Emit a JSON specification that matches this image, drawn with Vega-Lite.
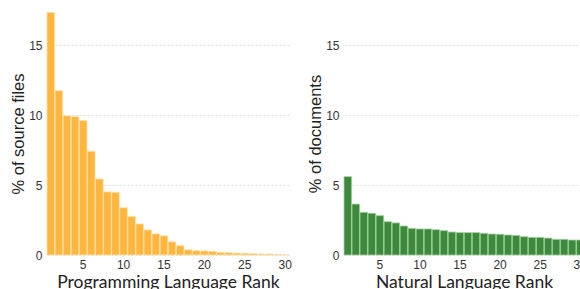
{
  "$schema": "https://vega.github.io/schema/vega-lite/v6.json",
  "padding": {"left": 10, "top": 12, "right": 0, "bottom": 0},
  "spacing": 15,
  "background": "white",
  "datasets": {
    "code": [
      {"rank": 1, "pct": 17.33}, {"rank": 2, "pct": 11.74}, {"rank": 3, "pct": 9.95},
      {"rank": 4, "pct": 9.88}, {"rank": 5, "pct": 9.6}, {"rank": 6, "pct": 7.42},
      {"rank": 7, "pct": 5.43}, {"rank": 8, "pct": 4.51}, {"rank": 9, "pct": 4.48},
      {"rank": 10, "pct": 3.38}, {"rank": 11, "pct": 2.76}, {"rank": 12, "pct": 2.22},
      {"rank": 13, "pct": 1.79}, {"rank": 14, "pct": 1.51}, {"rank": 15, "pct": 1.37},
      {"rank": 16, "pct": 0.94}, {"rank": 17, "pct": 0.67}, {"rank": 18, "pct": 0.37},
      {"rank": 19, "pct": 0.31}, {"rank": 20, "pct": 0.29}, {"rank": 21, "pct": 0.26},
      {"rank": 22, "pct": 0.19}, {"rank": 23, "pct": 0.17}, {"rank": 24, "pct": 0.14},
      {"rank": 25, "pct": 0.12}, {"rank": 26, "pct": 0.1}, {"rank": 27, "pct": 0.07},
      {"rank": 28, "pct": 0.07}, {"rank": 29, "pct": 0.05}, {"rank": 30, "pct": 0.03}
    ],
    "text": [
      {"rank": 1, "pct": 5.6}, {"rank": 2, "pct": 3.64}, {"rank": 3, "pct": 3.05},
      {"rank": 4, "pct": 2.98}, {"rank": 5, "pct": 2.81}, {"rank": 6, "pct": 2.38},
      {"rank": 7, "pct": 2.29}, {"rank": 8, "pct": 2.07}, {"rank": 9, "pct": 1.9},
      {"rank": 10, "pct": 1.86}, {"rank": 11, "pct": 1.86}, {"rank": 12, "pct": 1.81},
      {"rank": 13, "pct": 1.74}, {"rank": 14, "pct": 1.64}, {"rank": 15, "pct": 1.6},
      {"rank": 16, "pct": 1.6}, {"rank": 17, "pct": 1.6}, {"rank": 18, "pct": 1.55},
      {"rank": 19, "pct": 1.5}, {"rank": 20, "pct": 1.48}, {"rank": 21, "pct": 1.43},
      {"rank": 22, "pct": 1.4}, {"rank": 23, "pct": 1.31}, {"rank": 24, "pct": 1.26},
      {"rank": 25, "pct": 1.26}, {"rank": 26, "pct": 1.21}, {"rank": 27, "pct": 1.12},
      {"rank": 28, "pct": 1.12}, {"rank": 29, "pct": 1.07}, {"rank": 30, "pct": 1.07}
    ]
  },
  "config": {
    "view": {"stroke": null},
    "axis": {
      "labelFont": "Liberation Sans",
      "labelFontSize": 12,
      "labelColor": "#333",
      "ticks": false,
      "domain": false
    },
    "axisX": {
      "titleFont": "Lato",
      "titleFontSize": 17.5,
      "titleFontWeight": "normal",
      "titleColor": "#222",
      "labelPadding": 4,
      "titlePadding": 3,
      "grid": false,
      "labelAngle": 0
    },
    "axisY": {
      "titleFont": "Liberation Sans",
      "titleFontSize": 16.5,
      "titleFontWeight": "normal",
      "titleColor": "#222",
      "labelPadding": 5,
      "titlePadding": 2,
      "gridColor": "#dddddd",
      "gridDash": [2, 2],
      "gridWidth": 1
    }
  },
  "hconcat": [
    {
      "width": 242,
      "height": 243,
      "data": {"name": "code"},
      "mark": {"type": "bar", "color": "#ffb63e", "stroke": "#ffe2b0", "strokeWidth": 0.8},
      "encoding": {
        "x": {
          "field": "rank", "type": "ordinal", "title": "Programming Language Rank",
          "scale": {"paddingInner": 0.05, "paddingOuter": 0},
          "axis": {"values": [5, 10, 15, 20, 25, 30]}
        },
        "y": {
          "field": "pct", "type": "quantitative", "title": "% of source files",
          "scale": {"domain": [0, 17.36], "nice": false},
          "axis": {"values": [0, 5, 10, 15]}
        }
      }
    },
    {
      "width": 240,
      "height": 243,
      "data": {"name": "text"},
      "mark": {"type": "bar", "color": "#3e8a3d", "stroke": "#a5cfa3", "strokeWidth": 0.8},
      "encoding": {
        "x": {
          "field": "rank", "type": "ordinal", "title": "Natural Language Rank",
          "scale": {"paddingInner": 0.05, "paddingOuter": 0},
          "axis": {"values": [5, 10, 15, 20, 25, 30]}
        },
        "y": {
          "field": "pct", "type": "quantitative", "title": "% of documents",
          "scale": {"domain": [0, 17.36], "nice": false},
          "axis": {"values": [0, 5, 10, 15]}
        }
      }
    }
  ]
}
